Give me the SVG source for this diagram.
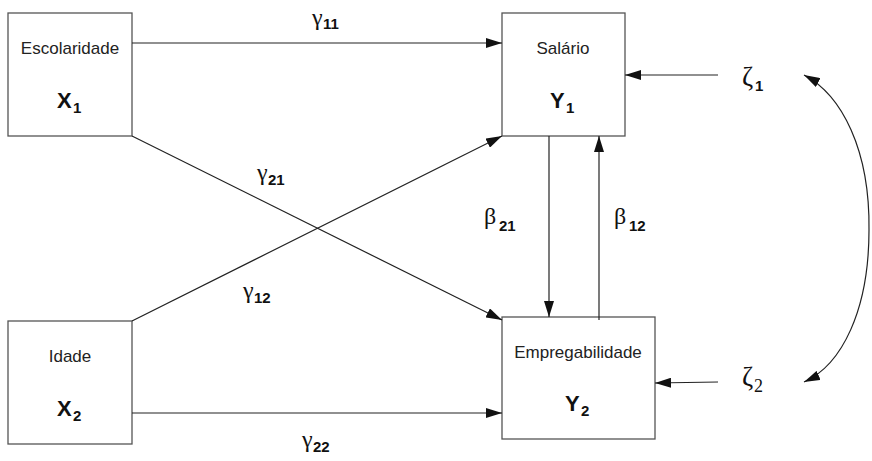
<svg xmlns="http://www.w3.org/2000/svg" width="872" height="461" viewBox="0 0 872 461">
<style>
.box{fill:#fff;stroke:#555;stroke-width:1.3}
.lbl{font-family:"Liberation Sans",Arial,sans-serif;font-size:17px;fill:#222;text-anchor:middle}
.var{font-family:"Liberation Sans",Arial,sans-serif;font-size:22px;font-weight:bold;fill:#111}
.sub{font-family:"Liberation Sans",Arial,sans-serif;font-size:15px;font-weight:bold;fill:#111}
.gr{font-family:"Liberation Serif","Times New Roman",serif;font-size:24px;fill:#111}
.z{font-family:"Liberation Serif","Times New Roman",serif;font-size:27px;fill:#111}
.sub2{font-family:"Liberation Serif","Times New Roman",serif;font-size:18px;fill:#111}
.ln{stroke:#222;stroke-width:1.2;fill:none}
</style>
<defs>
<marker id="ah" viewBox="0 0 16 10" refX="16" refY="5" markerWidth="16" markerHeight="10" markerUnits="userSpaceOnUse" orient="auto">
<path d="M0,0 L16,5 L0,10 Z" fill="#111"/>
</marker>
</defs>
<g id="X1">
<rect class="box" x="8" y="13" width="124" height="123"/>
<text class="lbl" x="70" y="54">Escolaridade</text>
<text class="var" x="57" y="108">X</text><text class="sub" x="73" y="113">1</text>
</g>
<g id="X2">
<rect class="box" x="8" y="321" width="124" height="123"/>
<text class="lbl" x="70" y="362">Idade</text>
<text class="var" x="57" y="416">X</text><text class="sub" x="73" y="421">2</text>
</g>
<g id="Y1">
<rect class="box" x="502" y="13" width="123" height="123"/>
<text class="lbl" x="563" y="54">Salário</text>
<text class="var" x="550" y="108">Y</text><text class="sub" x="566" y="113">1</text>
</g>
<g id="Y2">
<rect class="box" x="502" y="317" width="153" height="122"/>
<text class="lbl" x="578" y="358">Empregabilidade</text>
<text class="var" x="565" y="411">Y</text><text class="sub" x="581" y="416">2</text>
</g>
<g id="connectors">
<line class="ln" x1="132" y1="43" x2="502" y2="43" marker-end="url(#ah)"/>
<line class="ln" x1="132" y1="413" x2="502" y2="413" marker-end="url(#ah)"/>
<line class="ln" x1="132" y1="136" x2="502" y2="320" marker-end="url(#ah)"/>
<line class="ln" x1="132" y1="321" x2="502" y2="136" marker-end="url(#ah)"/>
<line class="ln" x1="549" y1="136" x2="549" y2="317" marker-end="url(#ah)"/>
<line class="ln" x1="599" y1="320" x2="599" y2="136" marker-end="url(#ah)"/>
<line class="ln" x1="718" y1="75" x2="625" y2="75" marker-end="url(#ah)"/>
<line class="ln" x1="718" y1="382" x2="655" y2="383" marker-end="url(#ah)"/>
<path class="ln" d="M869,230 C870,150 842,95 804,75" marker-end="url(#ah)"/>
<path class="ln" d="M869,230 C869,310 842,365 804,382" marker-end="url(#ah)"/>
</g>
<g id="labels">
<text class="gr" x="312" y="25">γ</text><text class="sub" x="323" y="29">11</text>
<text class="gr" x="302" y="447">γ</text><text class="sub" x="313" y="452">22</text>
<text class="gr" x="257" y="180">γ</text><text class="sub" x="268" y="185">21</text>
<text class="gr" x="243" y="298">γ</text><text class="sub" x="254" y="303">12</text>
<text class="gr" x="484" y="224">β</text><text class="sub" x="499" y="231">21</text>
<text class="gr" x="614" y="224">β</text><text class="sub" x="629" y="231">12</text>
<text class="z" x="742" y="86">ζ</text><text class="sub" x="755" y="91">1</text>
<text class="z" x="742" y="386">ζ</text><text class="sub2" x="754" y="392">2</text>
</g>
</svg>
